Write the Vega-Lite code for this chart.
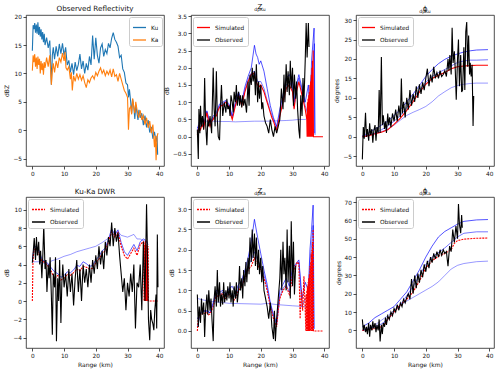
{
"$schema": "https://vega.github.io/schema/vega-lite/v6.json",
"padding": {"left": 3, "top": 3, "right": 5, "bottom": 3},
"bounds": "flush",
"columns": 3,
"spacing": {"row": 31, "column": 27},
"resolve": {"scale": {"color": "independent", "strokeDash": "independent", "opacity": "independent"}, "legend": {"color": "independent", "strokeDash": "independent"}},
"config": {
 "font": "DejaVu Sans",
 "view": {"stroke": "#222", "strokeWidth": 0.8},
 "axis": {"domain": false, "grid": false, "ticks": true, "tickColor": "#222", "tickSize": 3, "tickWidth": 0.8, "labelFontSize": 5.8, "labelColor": "#111", "labelPadding": 1.5, "titleFontSize": 6, "titleFontWeight": "normal", "titleColor": "#111", "titlePadding": 3, "labelFlush": false, "labelOverlap": false},
 "title": {"fontSize": 7.2, "fontWeight": "normal", "color": "#111", "offset": 2, "frame": "group", "subtitleColor": "#111"},
 "legend": {"orient": "top-left", "offset": 2, "padding": 3, "rowPadding": 1.5, "fillColor": "white", "strokeColor": "#ccc", "cornerRadius": 2, "labelFontSize": 5.8, "labelColor": "#111", "symbolType": "stroke", "symbolSize": 170, "symbolStrokeWidth": 1.3, "labelOffset": 4}
},
"datasets": {
 "a": [
  {"r":0,"v":14.0,"s":"Ku"},{"r":0.25,"v":18.5,"s":"Ku"},{"r":0.5,"v":17.8,"s":"Ku"},{"r":0.75,"v":18.9,"s":"Ku"},{"r":1.0,"v":17.2,"s":"Ku"},{"r":1.25,"v":18.6,"s":"Ku"},{"r":1.5,"v":17.0,"s":"Ku"},{"r":1.75,"v":19.0,"s":"Ku"},{"r":2.0,"v":16.8,"s":"Ku"},{"r":2.25,"v":18.2,"s":"Ku"},{"r":2.5,"v":16.5,"s":"Ku"},{"r":2.75,"v":17.8,"s":"Ku"},{"r":3.0,"v":16.0,"s":"Ku"},{"r":3.25,"v":17.3,"s":"Ku"},{"r":3.5,"v":15.5,"s":"Ku"},{"r":3.75,"v":17.0,"s":"Ku"},{"r":4.0,"v":15.0,"s":"Ku"},{"r":4.5,"v":16.3,"s":"Ku"},{"r":5.0,"v":14.5,"s":"Ku"},{"r":5.5,"v":15.8,"s":"Ku"},{"r":6.0,"v":8.0,"s":"Ku"},{"r":6.3,"v":13.2,"s":"Ku"},{"r":6.6,"v":14.6,"s":"Ku"},{"r":7.0,"v":12.5,"s":"Ku"},{"r":7.5,"v":14.8,"s":"Ku"},{"r":8.0,"v":13.0,"s":"Ku"},{"r":8.5,"v":15.2,"s":"Ku"},{"r":9.0,"v":13.5,"s":"Ku"},{"r":9.5,"v":15.3,"s":"Ku"},{"r":10.0,"v":13.2,"s":"Ku"},{"r":10.5,"v":14.6,"s":"Ku"},{"r":11.0,"v":11.5,"s":"Ku"},{"r":11.5,"v":12.3,"s":"Ku"},{"r":12.0,"v":10.2,"s":"Ku"},{"r":12.5,"v":11.8,"s":"Ku"},{"r":13.0,"v":9.8,"s":"Ku"},{"r":13.5,"v":12.0,"s":"Ku"},{"r":14.0,"v":10.5,"s":"Ku"},{"r":14.5,"v":11.6,"s":"Ku"},{"r":15.0,"v":13.4,"s":"Ku"},{"r":15.5,"v":10.8,"s":"Ku"},{"r":16.0,"v":12.2,"s":"Ku"},{"r":16.5,"v":10.0,"s":"Ku"},{"r":17.0,"v":11.8,"s":"Ku"},{"r":17.5,"v":10.6,"s":"Ku"},{"r":18.0,"v":13.0,"s":"Ku"},{"r":18.5,"v":11.5,"s":"Ku"},{"r":19.0,"v":16.7,"s":"Ku"},{"r":19.5,"v":12.5,"s":"Ku"},{"r":20.0,"v":16.3,"s":"Ku"},{"r":20.5,"v":13.2,"s":"Ku"},{"r":21.0,"v":11.8,"s":"Ku"},{"r":21.5,"v":14.5,"s":"Ku"},{"r":22.0,"v":15.2,"s":"Ku"},{"r":22.5,"v":13.0,"s":"Ku"},{"r":23.0,"v":14.2,"s":"Ku"},{"r":23.5,"v":13.5,"s":"Ku"},{"r":24.0,"v":15.3,"s":"Ku"},{"r":24.5,"v":14.5,"s":"Ku"},{"r":25.0,"v":16.2,"s":"Ku"},{"r":25.5,"v":17.2,"s":"Ku"},{"r":26.0,"v":16.0,"s":"Ku"},{"r":26.5,"v":15.5,"s":"Ku"},{"r":27.0,"v":14.8,"s":"Ku"},{"r":27.5,"v":12.8,"s":"Ku"},{"r":28.0,"v":13.2,"s":"Ku"},{"r":28.5,"v":10.8,"s":"Ku"},{"r":29.0,"v":10.2,"s":"Ku"},{"r":29.5,"v":8.3,"s":"Ku"},{"r":30.0,"v":8.0,"s":"Ku"},{"r":30.3,"v":5.8,"s":"Ku"},{"r":30.6,"v":7.2,"s":"Ku"},{"r":31.0,"v":5.0,"s":"Ku"},{"r":31.3,"v":3.0,"s":"Ku"},{"r":31.6,"v":5.5,"s":"Ku"},{"r":32.0,"v":4.0,"s":"Ku"},{"r":32.3,"v":2.0,"s":"Ku"},{"r":32.6,"v":4.5,"s":"Ku"},{"r":33.0,"v":3.0,"s":"Ku"},{"r":33.3,"v":1.8,"s":"Ku"},{"r":33.6,"v":3.6,"s":"Ku"},{"r":34.0,"v":2.2,"s":"Ku"},{"r":34.5,"v":3.0,"s":"Ku"},{"r":35.0,"v":0.9,"s":"Ku"},{"r":35.5,"v":2.6,"s":"Ku"},{"r":36.0,"v":0.5,"s":"Ku"},{"r":36.5,"v":1.8,"s":"Ku"},{"r":37.0,"v":-0.4,"s":"Ku"},{"r":37.5,"v":0.6,"s":"Ku"},{"r":38.0,"v":-1.5,"s":"Ku"},{"r":38.5,"v":-0.3,"s":"Ku"},{"r":39.0,"v":-2.0,"s":"Ku"},{"r":39.3,"v":-1.0,"s":"Ku"},{"r":39.5,"v":-4.3,"s":"Ku"},
  {"r":0,"v":10.5,"s":"Ka"},{"r":0.25,"v":13.2,"s":"Ka"},{"r":0.5,"v":12.0,"s":"Ka"},{"r":0.75,"v":13.4,"s":"Ka"},{"r":1.0,"v":11.2,"s":"Ka"},{"r":1.25,"v":12.8,"s":"Ka"},{"r":1.5,"v":10.8,"s":"Ka"},{"r":1.75,"v":13.0,"s":"Ka"},{"r":2.0,"v":11.5,"s":"Ka"},{"r":2.25,"v":12.6,"s":"Ka"},{"r":2.5,"v":10.0,"s":"Ka"},{"r":2.75,"v":12.2,"s":"Ka"},{"r":3.0,"v":10.6,"s":"Ka"},{"r":3.25,"v":11.8,"s":"Ka"},{"r":3.5,"v":9.8,"s":"Ka"},{"r":3.75,"v":12.0,"s":"Ka"},{"r":4.0,"v":11.0,"s":"Ka"},{"r":4.5,"v":12.8,"s":"Ka"},{"r":5.0,"v":11.2,"s":"Ka"},{"r":5.5,"v":13.2,"s":"Ka"},{"r":6.0,"v":8.0,"s":"Ka"},{"r":6.3,"v":10.5,"s":"Ka"},{"r":6.6,"v":11.8,"s":"Ka"},{"r":7.0,"v":10.2,"s":"Ka"},{"r":7.5,"v":12.2,"s":"Ka"},{"r":8.0,"v":11.0,"s":"Ka"},{"r":8.5,"v":12.8,"s":"Ka"},{"r":9.0,"v":12.0,"s":"Ka"},{"r":9.5,"v":13.6,"s":"Ka"},{"r":10.0,"v":12.2,"s":"Ka"},{"r":10.3,"v":13.8,"s":"Ka"},{"r":10.6,"v":11.0,"s":"Ka"},{"r":11.0,"v":10.6,"s":"Ka"},{"r":11.5,"v":11.2,"s":"Ka"},{"r":12.0,"v":9.0,"s":"Ka"},{"r":12.3,"v":10.2,"s":"Ka"},{"r":12.6,"v":7.0,"s":"Ka"},{"r":13.0,"v":9.6,"s":"Ka"},{"r":13.5,"v":8.6,"s":"Ka"},{"r":14.0,"v":10.0,"s":"Ka"},{"r":14.5,"v":9.0,"s":"Ka"},{"r":15.0,"v":9.8,"s":"Ka"},{"r":15.5,"v":8.8,"s":"Ka"},{"r":16.0,"v":9.6,"s":"Ka"},{"r":16.5,"v":8.4,"s":"Ka"},{"r":17.0,"v":7.5,"s":"Ka"},{"r":17.5,"v":8.9,"s":"Ka"},{"r":18.0,"v":8.4,"s":"Ka"},{"r":18.5,"v":9.2,"s":"Ka"},{"r":19.0,"v":9.6,"s":"Ka"},{"r":19.5,"v":9.0,"s":"Ka"},{"r":20.0,"v":10.2,"s":"Ka"},{"r":20.5,"v":9.6,"s":"Ka"},{"r":21.0,"v":10.4,"s":"Ka"},{"r":21.5,"v":11.0,"s":"Ka"},{"r":22.0,"v":10.0,"s":"Ka"},{"r":22.5,"v":10.6,"s":"Ka"},{"r":23.0,"v":9.6,"s":"Ka"},{"r":23.5,"v":10.4,"s":"Ka"},{"r":24.0,"v":9.8,"s":"Ka"},{"r":24.5,"v":10.6,"s":"Ka"},{"r":25.0,"v":9.4,"s":"Ka"},{"r":25.5,"v":10.8,"s":"Ka"},{"r":26.0,"v":9.5,"s":"Ka"},{"r":26.5,"v":9.8,"s":"Ka"},{"r":27.0,"v":8.6,"s":"Ka"},{"r":27.5,"v":10.0,"s":"Ka"},{"r":28.0,"v":9.0,"s":"Ka"},{"r":28.5,"v":8.0,"s":"Ka"},{"r":29.0,"v":7.0,"s":"Ka"},{"r":29.5,"v":6.5,"s":"Ka"},{"r":30.0,"v":5.8,"s":"Ka"},{"r":30.3,"v":0.1,"s":"Ka"},{"r":30.6,"v":3.8,"s":"Ka"},{"r":31.0,"v":4.2,"s":"Ka"},{"r":31.3,"v":2.8,"s":"Ka"},{"r":31.6,"v":5.6,"s":"Ka"},{"r":32.0,"v":4.0,"s":"Ka"},{"r":32.3,"v":3.0,"s":"Ka"},{"r":32.6,"v":5.0,"s":"Ka"},{"r":33.0,"v":3.6,"s":"Ka"},{"r":33.5,"v":2.2,"s":"Ka"},{"r":34.0,"v":3.5,"s":"Ka"},{"r":34.5,"v":1.8,"s":"Ka"},{"r":35.0,"v":2.6,"s":"Ka"},{"r":35.5,"v":1.0,"s":"Ka"},{"r":36.0,"v":2.2,"s":"Ka"},{"r":36.5,"v":0.4,"s":"Ka"},{"r":37.0,"v":1.6,"s":"Ka"},{"r":37.5,"v":-0.5,"s":"Ka"},{"r":38.0,"v":1.0,"s":"Ka"},{"r":38.5,"v":-3.0,"s":"Ka"},{"r":38.8,"v":-1.0,"s":"Ka"},{"r":39.0,"v":-5.3,"s":"Ka"},{"r":39.3,"v":-1.2,"s":"Ka"},{"r":39.6,"v":-0.5,"s":"Ka"}
 ],
 "b": [
  {"r":0,"v":0.05,"s":"Simulated"},{"r":0.5,"v":0.3,"s":"Simulated"},{"r":1,"v":0.2,"s":"Simulated"},{"r":1.5,"v":0.35,"s":"Simulated"},{"r":2,"v":0.25,"s":"Simulated"},{"r":2.5,"v":0.5,"s":"Simulated"},{"r":3,"v":0.7,"s":"Simulated"},{"r":3.5,"v":0.45,"s":"Simulated"},{"r":4,"v":0.3,"s":"Simulated"},{"r":4.5,"v":0.45,"s":"Simulated"},{"r":5,"v":0.5,"s":"Simulated"},{"r":5.5,"v":0.6,"s":"Simulated"},{"r":6,"v":0.6,"s":"Simulated"},{"r":6.5,"v":0.75,"s":"Simulated"},{"r":7,"v":0.85,"s":"Simulated"},{"r":7.5,"v":0.9,"s":"Simulated"},{"r":8,"v":0.9,"s":"Simulated"},{"r":8.5,"v":0.95,"s":"Simulated"},{"r":9,"v":1.0,"s":"Simulated"},{"r":9.5,"v":0.95,"s":"Simulated"},{"r":10,"v":0.85,"s":"Simulated"},{"r":10.5,"v":0.65,"s":"Simulated"},{"r":11,"v":0.5,"s":"Simulated"},{"r":11.5,"v":0.7,"s":"Simulated"},{"r":12,"v":0.9,"s":"Simulated"},{"r":12.5,"v":1.05,"s":"Simulated"},{"r":13,"v":1.2,"s":"Simulated"},{"r":13.5,"v":1.05,"s":"Simulated"},{"r":14,"v":0.9,"s":"Simulated"},{"r":14.5,"v":1.1,"s":"Simulated"},{"r":15,"v":1.3,"s":"Simulated"},{"r":15.5,"v":1.45,"s":"Simulated"},{"r":16,"v":1.6,"s":"Simulated"},{"r":16.5,"v":1.7,"s":"Simulated"},{"r":17,"v":1.8,"s":"Simulated"},{"r":17.5,"v":1.85,"s":"Simulated"},{"r":18,"v":1.8,"s":"Simulated"},{"r":18.5,"v":1.6,"s":"Simulated"},{"r":19,"v":1.5,"s":"Simulated"},{"r":19.5,"v":1.45,"s":"Simulated"},{"r":20,"v":1.5,"s":"Simulated"},{"r":20.5,"v":1.4,"s":"Simulated"},{"r":21,"v":1.3,"s":"Simulated"},{"r":21.5,"v":1.15,"s":"Simulated"},{"r":22,"v":1.0,"s":"Simulated"},{"r":22.5,"v":0.85,"s":"Simulated"},{"r":23,"v":0.7,"s":"Simulated"},{"r":23.5,"v":0.55,"s":"Simulated"},{"r":24,"v":0.45,"s":"Simulated"},{"r":24.5,"v":0.3,"s":"Simulated"},{"r":25,"v":0.2,"s":"Simulated"},{"r":25.5,"v":0.4,"s":"Simulated"},{"r":26,"v":0.6,"s":"Simulated"},{"r":26.5,"v":0.8,"s":"Simulated"},{"r":27,"v":1.0,"s":"Simulated"},{"r":27.5,"v":1.2,"s":"Simulated"},{"r":28,"v":1.4,"s":"Simulated"},{"r":28.5,"v":1.45,"s":"Simulated"},{"r":29,"v":1.5,"s":"Simulated"},{"r":29.5,"v":1.4,"s":"Simulated"},{"r":30,"v":1.3,"s":"Simulated"},{"r":30.5,"v":0.8,"s":"Simulated"},{"r":31,"v":1.2,"s":"Simulated"},{"r":31.5,"v":1.4,"s":"Simulated"},{"r":32,"v":1.6,"s":"Simulated"},{"r":32.5,"v":1.4,"s":"Simulated"},{"r":33,"v":1.2,"s":"Simulated"},{"r":33.5,"v":1.0,"s":"Simulated"},{"r":34,"v":0.8,"s":"Simulated"},{"r":34.5,"v":0.5,"s":"Simulated"},{"r":34.6,"v":0,"s":"Simulated"},{"r":34.7,"v":1.0,"s":"Simulated"},{"r":34.8,"v":0,"s":"Simulated"},{"r":34.9,"v":1.1,"s":"Simulated"},{"r":35.0,"v":0,"s":"Simulated"},{"r":35.1,"v":1.2,"s":"Simulated"},{"r":35.2,"v":0,"s":"Simulated"},{"r":35.3,"v":1.3,"s":"Simulated"},{"r":35.4,"v":0,"s":"Simulated"},{"r":35.5,"v":1.5,"s":"Simulated"},{"r":35.6,"v":0,"s":"Simulated"},{"r":35.7,"v":1.6,"s":"Simulated"},{"r":35.8,"v":0,"s":"Simulated"},{"r":35.9,"v":1.8,"s":"Simulated"},{"r":36.0,"v":0,"s":"Simulated"},{"r":36.1,"v":2.0,"s":"Simulated"},{"r":36.2,"v":0,"s":"Simulated"},{"r":36.3,"v":2.2,"s":"Simulated"},{"r":36.4,"v":0,"s":"Simulated"},{"r":36.5,"v":2.5,"s":"Simulated"},{"r":36.6,"v":0,"s":"Simulated"},{"r":39.6,"v":0,"s":"Simulated"},
  {"r":0,"v":0.2,"s":"Observed"},{"r":0.3,"v":-0.65,"s":"Observed"},{"r":0.5,"v":0.8,"s":"Observed"},{"r":0.8,"v":0.1,"s":"Observed"},{"r":1,"v":0.9,"s":"Observed"},{"r":1.3,"v":0.3,"s":"Observed"},{"r":1.6,"v":0.6,"s":"Observed"},{"r":2,"v":0.2,"s":"Observed"},{"r":2.3,"v":1.7,"s":"Observed"},{"r":2.6,"v":0.4,"s":"Observed"},{"r":3,"v":-0.25,"s":"Observed"},{"r":3.3,"v":0.5,"s":"Observed"},{"r":3.6,"v":0.3,"s":"Observed"},{"r":4,"v":0.6,"s":"Observed"},{"r":4.5,"v":0.1,"s":"Observed"},{"r":5,"v":2.0,"s":"Observed"},{"r":5.3,"v":0.8,"s":"Observed"},{"r":5.6,"v":0.3,"s":"Observed"},{"r":6,"v":1.9,"s":"Observed"},{"r":6.3,"v":0.5,"s":"Observed"},{"r":6.6,"v":0.0,"s":"Observed"},{"r":7,"v":-0.1,"s":"Observed"},{"r":7.3,"v":0.9,"s":"Observed"},{"r":7.6,"v":1.5,"s":"Observed"},{"r":8,"v":0.6,"s":"Observed"},{"r":8.5,"v":1.0,"s":"Observed"},{"r":9,"v":0.7,"s":"Observed"},{"r":9.3,"v":1.1,"s":"Observed"},{"r":9.6,"v":0.8,"s":"Observed"},{"r":10,"v":0.9,"s":"Observed"},{"r":10.3,"v":0.6,"s":"Observed"},{"r":10.6,"v":1.2,"s":"Observed"},{"r":11,"v":1.0,"s":"Observed"},{"r":11.3,"v":0.7,"s":"Observed"},{"r":11.6,"v":1.3,"s":"Observed"},{"r":12,"v":1.0,"s":"Observed"},{"r":12.3,"v":1.5,"s":"Observed"},{"r":12.6,"v":0.9,"s":"Observed"},{"r":13,"v":1.3,"s":"Observed"},{"r":13.3,"v":0.9,"s":"Observed"},{"r":13.6,"v":1.2,"s":"Observed"},{"r":14,"v":0.85,"s":"Observed"},{"r":14.3,"v":1.2,"s":"Observed"},{"r":14.6,"v":0.9,"s":"Observed"},{"r":15,"v":1.1,"s":"Observed"},{"r":15.5,"v":0.7,"s":"Observed"},{"r":16,"v":1.6,"s":"Observed"},{"r":16.3,"v":0.9,"s":"Observed"},{"r":16.6,"v":1.8,"s":"Observed"},{"r":17,"v":1.5,"s":"Observed"},{"r":17.3,"v":2.0,"s":"Observed"},{"r":17.6,"v":1.6,"s":"Observed"},{"r":18,"v":1.9,"s":"Observed"},{"r":18.3,"v":1.2,"s":"Observed"},{"r":18.6,"v":2.1,"s":"Observed"},{"r":19,"v":1.0,"s":"Observed"},{"r":19.3,"v":1.6,"s":"Observed"},{"r":19.6,"v":1.1,"s":"Observed"},{"r":20,"v":1.5,"s":"Observed"},{"r":20.3,"v":0.8,"s":"Observed"},{"r":20.6,"v":1.0,"s":"Observed"},{"r":21,"v":0.6,"s":"Observed"},{"r":21.5,"v":0.4,"s":"Observed"},{"r":22,"v":0.3,"s":"Observed"},{"r":22.5,"v":0.1,"s":"Observed"},{"r":23,"v":0.5,"s":"Observed"},{"r":23.5,"v":0.2,"s":"Observed"},{"r":24,"v":0.0,"s":"Observed"},{"r":24.5,"v":0.3,"s":"Observed"},{"r":25,"v":0.1,"s":"Observed"},{"r":25.5,"v":0.3,"s":"Observed"},{"r":26,"v":0.5,"s":"Observed"},{"r":26.5,"v":1.4,"s":"Observed"},{"r":27,"v":0.8,"s":"Observed"},{"r":27.3,"v":1.8,"s":"Observed"},{"r":27.6,"v":1.0,"s":"Observed"},{"r":28,"v":2.1,"s":"Observed"},{"r":28.3,"v":1.3,"s":"Observed"},{"r":28.6,"v":1.9,"s":"Observed"},{"r":29,"v":1.2,"s":"Observed"},{"r":29.3,"v":2.2,"s":"Observed"},{"r":29.6,"v":1.4,"s":"Observed"},{"r":30,"v":2.0,"s":"Observed"},{"r":30.3,"v":0.9,"s":"Observed"},{"r":30.6,"v":1.8,"s":"Observed"},{"r":31,"v":1.1,"s":"Observed"},{"r":31.3,"v":1.6,"s":"Observed"},{"r":31.6,"v":0.8,"s":"Observed"},{"r":32,"v":0.2,"s":"Observed"},{"r":32.3,"v":-0.05,"s":"Observed"},{"r":32.6,"v":1.2,"s":"Observed"},{"r":33,"v":0.6,"s":"Observed"},{"r":33.3,"v":1.7,"s":"Observed"},{"r":33.6,"v":1.0,"s":"Observed"},{"r":34,"v":2.2,"s":"Observed"},{"r":34.3,"v":3.3,"s":"Observed"},{"r":34.6,"v":2.3,"s":"Observed"},{"r":35,"v":3.3,"s":"Observed"},{"r":35.2,"v":2.6,"s":"Observed"},
  {"r":0,"v":0.25,"s":"hi"},{"r":1,"v":0.4,"s":"hi"},{"r":2,"v":0.35,"s":"hi"},{"r":3,"v":0.75,"s":"hi"},{"r":4,"v":0.4,"s":"hi"},{"r":5,"v":0.6,"s":"hi"},{"r":6,"v":0.7,"s":"hi"},{"r":7,"v":0.95,"s":"hi"},{"r":8,"v":1.0,"s":"hi"},{"r":9,"v":1.05,"s":"hi"},{"r":10,"v":0.95,"s":"hi"},{"r":11,"v":0.6,"s":"hi"},{"r":12,"v":1.0,"s":"hi"},{"r":13,"v":1.3,"s":"hi"},{"r":14,"v":1.0,"s":"hi"},{"r":15,"v":1.45,"s":"hi"},{"r":16,"v":1.75,"s":"hi"},{"r":17,"v":2.0,"s":"hi"},{"r":18,"v":2.65,"s":"hi"},{"r":18.5,"v":2.4,"s":"hi"},{"r":19,"v":2.3,"s":"hi"},{"r":19.5,"v":2.1,"s":"hi"},{"r":20,"v":2.2,"s":"hi"},{"r":21,"v":1.9,"s":"hi"},{"r":22,"v":1.4,"s":"hi"},{"r":23,"v":0.9,"s":"hi"},{"r":24,"v":0.55,"s":"hi"},{"r":25,"v":0.3,"s":"hi"},{"r":26,"v":0.8,"s":"hi"},{"r":27,"v":1.2,"s":"hi"},{"r":28,"v":1.7,"s":"hi"},{"r":29,"v":1.8,"s":"hi"},{"r":30,"v":1.6,"s":"hi"},{"r":30.5,"v":1.0,"s":"hi"},{"r":31,"v":1.4,"s":"hi"},{"r":32,"v":1.8,"s":"hi"},{"r":33,"v":1.4,"s":"hi"},{"r":34,"v":1.0,"s":"hi"},{"r":35,"v":1.5,"s":"hi"},{"r":35.5,"v":0.6,"s":"hi"},{"r":36,"v":2.2,"s":"hi"},{"r":36.5,"v":2.8,"s":"hi"},{"r":36.8,"v":3.15,"s":"hi"},{"r":37,"v":0.1,"s":"hi"},
  {"r":0,"v":0.2,"s":"mid"},{"r":1,"v":0.3,"s":"mid"},{"r":2,"v":0.3,"s":"mid"},{"r":3,"v":0.72,"s":"mid"},{"r":4,"v":0.35,"s":"mid"},{"r":5,"v":0.55,"s":"mid"},{"r":6,"v":0.65,"s":"mid"},{"r":7,"v":0.9,"s":"mid"},{"r":8,"v":0.95,"s":"mid"},{"r":9,"v":1.02,"s":"mid"},{"r":10,"v":0.9,"s":"mid"},{"r":11,"v":0.55,"s":"mid"},{"r":12,"v":0.95,"s":"mid"},{"r":13,"v":1.25,"s":"mid"},{"r":14,"v":0.95,"s":"mid"},{"r":15,"v":1.35,"s":"mid"},{"r":16,"v":1.65,"s":"mid"},{"r":17,"v":1.85,"s":"mid"},{"r":18,"v":1.9,"s":"mid"},{"r":19,"v":1.6,"s":"mid"},{"r":20,"v":1.6,"s":"mid"},{"r":21,"v":1.4,"s":"mid"},{"r":22,"v":1.05,"s":"mid"},{"r":23,"v":0.75,"s":"mid"},{"r":24,"v":0.5,"s":"mid"},{"r":25,"v":0.25,"s":"mid"},{"r":26,"v":0.65,"s":"mid"},{"r":27,"v":1.05,"s":"mid"},{"r":28,"v":1.5,"s":"mid"},{"r":29,"v":1.6,"s":"mid"},{"r":30,"v":1.4,"s":"mid"},{"r":30.5,"v":0.85,"s":"mid"},{"r":31,"v":1.25,"s":"mid"},{"r":32,"v":1.7,"s":"mid"},{"r":33,"v":1.3,"s":"mid"},{"r":34,"v":0.9,"s":"mid"},{"r":35,"v":0.6,"s":"mid"},{"r":35.5,"v":1.4,"s":"mid"},{"r":36,"v":1.8,"s":"mid"},{"r":36.5,"v":2.2,"s":"mid"},{"r":36.9,"v":2.7,"s":"mid"},{"r":37.1,"v":0.05,"s":"mid"},
  {"r":0,"v":0.2,"s":"lo"},{"r":0.5,"v":0.42,"s":"lo"},{"r":2,"v":0.45,"s":"lo"},{"r":5,"v":0.45,"s":"lo"},{"r":8,"v":0.44,"s":"lo"},{"r":10,"v":0.44,"s":"lo"},{"r":12,"v":0.43,"s":"lo"},{"r":15,"v":0.44,"s":"lo"},{"r":18,"v":0.45,"s":"lo"},{"r":20,"v":0.45,"s":"lo"},{"r":22,"v":0.45,"s":"lo"},{"r":25,"v":0.46,"s":"lo"},{"r":28,"v":0.47,"s":"lo"},{"r":30,"v":0.48,"s":"lo"},{"r":32,"v":0.5,"s":"lo"},{"r":34,"v":0.5,"s":"lo"},{"r":35,"v":0.55,"s":"lo"}
 ],
 "c": [
  {"r":0,"v":0,"s":"Simulated"},{"r":2,"v":0.3,"s":"Simulated"},{"r":4,"v":0.8,"s":"Simulated"},{"r":6,"v":1.2,"s":"Simulated"},{"r":8,"v":1.8,"s":"Simulated"},{"r":10,"v":3.2,"s":"Simulated"},{"r":12,"v":4.8,"s":"Simulated"},{"r":14,"v":6.8,"s":"Simulated"},{"r":16,"v":9.0,"s":"Simulated"},{"r":18,"v":11.5,"s":"Simulated"},{"r":20,"v":13.5,"s":"Simulated"},{"r":22,"v":15.0,"s":"Simulated"},{"r":24,"v":15.8,"s":"Simulated"},{"r":26,"v":16.5,"s":"Simulated"},{"r":28,"v":17.5,"s":"Simulated"},{"r":30,"v":18.0,"s":"Simulated"},{"r":32,"v":18.2,"s":"Simulated"},{"r":34,"v":18.3,"s":"Simulated"},{"r":36,"v":18.4,"s":"Simulated"},{"r":39.6,"v":18.4,"s":"Simulated"},
  {"r":0,"v":-5.8,"s":"Observed"},{"r":0.3,"v":2.5,"s":"Observed"},{"r":0.6,"v":-0.5,"s":"Observed"},{"r":1,"v":6.2,"s":"Observed"},{"r":1.3,"v":0,"s":"Observed"},{"r":1.6,"v":2,"s":"Observed"},{"r":2,"v":-1,"s":"Observed"},{"r":2.3,"v":3.5,"s":"Observed"},{"r":2.6,"v":0.5,"s":"Observed"},{"r":3,"v":2,"s":"Observed"},{"r":3.3,"v":-1.5,"s":"Observed"},{"r":3.6,"v":1.5,"s":"Observed"},{"r":4,"v":3,"s":"Observed"},{"r":4.3,"v":-1,"s":"Observed"},{"r":4.6,"v":2.5,"s":"Observed"},{"r":5,"v":1,"s":"Observed"},{"r":5.3,"v":12,"s":"Observed"},{"r":5.6,"v":1,"s":"Observed"},{"r":6,"v":20.5,"s":"Observed"},{"r":6.3,"v":3,"s":"Observed"},{"r":6.6,"v":5.5,"s":"Observed"},{"r":7,"v":2,"s":"Observed"},{"r":7.3,"v":4,"s":"Observed"},{"r":7.6,"v":1,"s":"Observed"},{"r":8,"v":6,"s":"Observed"},{"r":8.3,"v":3,"s":"Observed"},{"r":8.6,"v":5,"s":"Observed"},{"r":9,"v":2.5,"s":"Observed"},{"r":9.5,"v":6,"s":"Observed"},{"r":10,"v":4,"s":"Observed"},{"r":10.5,"v":7,"s":"Observed"},{"r":11,"v":4,"s":"Observed"},{"r":11.5,"v":8,"s":"Observed"},{"r":12,"v":5,"s":"Observed"},{"r":12.3,"v":15,"s":"Observed"},{"r":12.6,"v":6,"s":"Observed"},{"r":13,"v":9,"s":"Observed"},{"r":13.5,"v":5,"s":"Observed"},{"r":14,"v":10,"s":"Observed"},{"r":14.5,"v":7,"s":"Observed"},{"r":15,"v":12,"s":"Observed"},{"r":15.5,"v":8,"s":"Observed"},{"r":16,"v":11,"s":"Observed"},{"r":16.5,"v":9,"s":"Observed"},{"r":17,"v":13,"s":"Observed"},{"r":17.5,"v":10,"s":"Observed"},{"r":18,"v":13.5,"s":"Observed"},{"r":18.5,"v":11,"s":"Observed"},{"r":19,"v":14,"s":"Observed"},{"r":19.5,"v":12,"s":"Observed"},{"r":20,"v":15,"s":"Observed"},{"r":20.5,"v":17.5,"s":"Observed"},{"r":21,"v":13,"s":"Observed"},{"r":21.5,"v":16,"s":"Observed"},{"r":22,"v":14,"s":"Observed"},{"r":22.5,"v":18,"s":"Observed"},{"r":23,"v":15,"s":"Observed"},{"r":23.5,"v":16.5,"s":"Observed"},{"r":24,"v":15,"s":"Observed"},{"r":24.5,"v":17,"s":"Observed"},{"r":25,"v":15.5,"s":"Observed"},{"r":25.5,"v":16,"s":"Observed"},{"r":26,"v":17,"s":"Observed"},{"r":26.5,"v":15.5,"s":"Observed"},{"r":27,"v":20,"s":"Observed"},{"r":27.3,"v":17,"s":"Observed"},{"r":27.6,"v":21,"s":"Observed"},{"r":28,"v":16,"s":"Observed"},{"r":28.3,"v":28,"s":"Observed"},{"r":28.6,"v":19,"s":"Observed"},{"r":29,"v":22,"s":"Observed"},{"r":29.3,"v":17,"s":"Observed"},{"r":29.6,"v":9.5,"s":"Observed"},{"r":30,"v":20,"s":"Observed"},{"r":30.3,"v":25,"s":"Observed"},{"r":30.6,"v":13,"s":"Observed"},{"r":31,"v":21,"s":"Observed"},{"r":31.3,"v":11.5,"s":"Observed"},{"r":31.6,"v":12,"s":"Observed"},{"r":32,"v":23,"s":"Observed"},{"r":32.3,"v":12,"s":"Observed"},{"r":32.6,"v":27,"s":"Observed"},{"r":32.9,"v":29.5,"s":"Observed"},{"r":33.2,"v":18,"s":"Observed"},{"r":33.5,"v":26,"s":"Observed"},{"r":33.8,"v":16,"s":"Observed"},{"r":34,"v":19,"s":"Observed"},{"r":34.3,"v":15.5,"s":"Observed"},{"r":34.6,"v":18.5,"s":"Observed"},{"r":34.9,"v":2.8,"s":"Observed"},{"r":35.1,"v":10.5,"s":"Observed"},
  {"r":0,"v":0.3,"s":"hi"},{"r":2,"v":1.0,"s":"hi"},{"r":4,"v":2.0,"s":"hi"},{"r":6,"v":3.0,"s":"hi"},{"r":8,"v":4.0,"s":"hi"},{"r":10,"v":5.5,"s":"hi"},{"r":12,"v":7.0,"s":"hi"},{"r":14,"v":9.0,"s":"hi"},{"r":16,"v":11.0,"s":"hi"},{"r":18,"v":13.2,"s":"hi"},{"r":20,"v":15.5,"s":"hi"},{"r":22,"v":17.3,"s":"hi"},{"r":24,"v":18.8,"s":"hi"},{"r":26,"v":19.9,"s":"hi"},{"r":28,"v":20.7,"s":"hi"},{"r":30,"v":21.3,"s":"hi"},{"r":32,"v":21.8,"s":"hi"},{"r":34,"v":22.1,"s":"hi"},{"r":36,"v":22.3,"s":"hi"},{"r":39.6,"v":22.4,"s":"hi"},
  {"r":0,"v":0,"s":"mid"},{"r":2,"v":0.5,"s":"mid"},{"r":4,"v":1.0,"s":"mid"},{"r":6,"v":1.8,"s":"mid"},{"r":8,"v":2.8,"s":"mid"},{"r":10,"v":4.0,"s":"mid"},{"r":12,"v":5.5,"s":"mid"},{"r":14,"v":7.5,"s":"mid"},{"r":16,"v":9.8,"s":"mid"},{"r":18,"v":12.0,"s":"mid"},{"r":20,"v":14.0,"s":"mid"},{"r":22,"v":15.5,"s":"mid"},{"r":24,"v":16.5,"s":"mid"},{"r":26,"v":17.3,"s":"mid"},{"r":28,"v":18.2,"s":"mid"},{"r":30,"v":19.1,"s":"mid"},{"r":32,"v":19.5,"s":"mid"},{"r":34,"v":19.7,"s":"mid"},{"r":36,"v":19.7,"s":"mid"},{"r":39.6,"v":19.8,"s":"mid"},
  {"r":0,"v":0,"s":"lo"},{"r":2,"v":0.3,"s":"lo"},{"r":4,"v":0.8,"s":"lo"},{"r":6,"v":1.3,"s":"lo"},{"r":8,"v":2.0,"s":"lo"},{"r":10,"v":3.0,"s":"lo"},{"r":12,"v":4.3,"s":"lo"},{"r":14,"v":5.5,"s":"lo"},{"r":16,"v":6.3,"s":"lo"},{"r":18,"v":7.0,"s":"lo"},{"r":20,"v":7.8,"s":"lo"},{"r":22,"v":9.0,"s":"lo"},{"r":24,"v":10.5,"s":"lo"},{"r":26,"v":11.6,"s":"lo"},{"r":28,"v":12.6,"s":"lo"},{"r":30,"v":13.2,"s":"lo"},{"r":32,"v":13.5,"s":"lo"},{"r":34,"v":13.7,"s":"lo"},{"r":36,"v":13.8,"s":"lo"},{"r":39.6,"v":13.8,"s":"lo"}
 ],
 "d": [
  {"r":0,"v":0,"s":"Simulated"},{"r":0.2,"v":4.5,"s":"Simulated"},{"r":0.5,"v":5.5,"s":"Simulated"},{"r":1,"v":5.8,"s":"Simulated"},{"r":1.5,"v":5.5,"s":"Simulated"},{"r":2,"v":5.2,"s":"Simulated"},{"r":3,"v":4.4,"s":"Simulated"},{"r":4,"v":4.2,"s":"Simulated"},{"r":5,"v":3.8,"s":"Simulated"},{"r":6,"v":3.2,"s":"Simulated"},{"r":7,"v":2.5,"s":"Simulated"},{"r":8,"v":2.8,"s":"Simulated"},{"r":9,"v":2.3,"s":"Simulated"},{"r":10,"v":2.5,"s":"Simulated"},{"r":11,"v":2.9,"s":"Simulated"},{"r":12,"v":2.8,"s":"Simulated"},{"r":13,"v":3.1,"s":"Simulated"},{"r":14,"v":3.5,"s":"Simulated"},{"r":15,"v":3.3,"s":"Simulated"},{"r":16,"v":3.8,"s":"Simulated"},{"r":17,"v":3.7,"s":"Simulated"},{"r":18,"v":3.5,"s":"Simulated"},{"r":19,"v":3.6,"s":"Simulated"},{"r":20,"v":4.2,"s":"Simulated"},{"r":21,"v":4.6,"s":"Simulated"},{"r":22,"v":5.2,"s":"Simulated"},{"r":23,"v":5.5,"s":"Simulated"},{"r":24,"v":6.5,"s":"Simulated"},{"r":25,"v":7.6,"s":"Simulated"},{"r":26,"v":7.0,"s":"Simulated"},{"r":27,"v":7.5,"s":"Simulated"},{"r":28,"v":6.0,"s":"Simulated"},{"r":29,"v":5.0,"s":"Simulated"},{"r":30,"v":4.6,"s":"Simulated"},{"r":31,"v":5.2,"s":"Simulated"},{"r":32,"v":5.8,"s":"Simulated"},{"r":33,"v":5.0,"s":"Simulated"},{"r":34,"v":6.2,"s":"Simulated"},{"r":35,"v":6.5,"s":"Simulated"},{"r":35.2,"v":0,"s":"Simulated"},{"r":35.3,"v":6.4,"s":"Simulated"},{"r":35.4,"v":0,"s":"Simulated"},{"r":35.5,"v":6.2,"s":"Simulated"},{"r":35.6,"v":0,"s":"Simulated"},{"r":35.7,"v":6.6,"s":"Simulated"},{"r":35.8,"v":0,"s":"Simulated"},{"r":35.9,"v":6.0,"s":"Simulated"},{"r":36.0,"v":0,"s":"Simulated"},{"r":36.1,"v":6.2,"s":"Simulated"},{"r":36.2,"v":0,"s":"Simulated"},{"r":36.3,"v":5.8,"s":"Simulated"},{"r":36.4,"v":0,"s":"Simulated"},{"r":36.5,"v":6.0,"s":"Simulated"},{"r":36.6,"v":0,"s":"Simulated"},{"r":39.6,"v":0,"s":"Simulated"},
  {"r":0,"v":4.2,"s":"Observed"},{"r":0.3,"v":5.5,"s":"Observed"},{"r":0.6,"v":6.9,"s":"Observed"},{"r":1,"v":4.5,"s":"Observed"},{"r":1.3,"v":7.0,"s":"Observed"},{"r":1.6,"v":5.0,"s":"Observed"},{"r":2,"v":6.5,"s":"Observed"},{"r":2.3,"v":4.0,"s":"Observed"},{"r":2.6,"v":5.5,"s":"Observed"},{"r":3,"v":2.5,"s":"Observed"},{"r":3.3,"v":5,"s":"Observed"},{"r":3.6,"v":8.3,"s":"Observed"},{"r":4,"v":3.5,"s":"Observed"},{"r":4.3,"v":4.5,"s":"Observed"},{"r":4.6,"v":1.0,"s":"Observed"},{"r":5,"v":4,"s":"Observed"},{"r":5.3,"v":2.5,"s":"Observed"},{"r":5.6,"v":4.8,"s":"Observed"},{"r":6,"v":0.5,"s":"Observed"},{"r":6.3,"v":-3.7,"s":"Observed"},{"r":6.6,"v":3,"s":"Observed"},{"r":7,"v":1.5,"s":"Observed"},{"r":7.3,"v":4.8,"s":"Observed"},{"r":7.6,"v":-4.4,"s":"Observed"},{"r":8,"v":2.5,"s":"Observed"},{"r":8.3,"v":0,"s":"Observed"},{"r":8.6,"v":4.5,"s":"Observed"},{"r":9,"v":-2.4,"s":"Observed"},{"r":9.3,"v":2,"s":"Observed"},{"r":9.6,"v":4,"s":"Observed"},{"r":10,"v":1.5,"s":"Observed"},{"r":10.5,"v":3,"s":"Observed"},{"r":11,"v":0.5,"s":"Observed"},{"r":11.5,"v":3.5,"s":"Observed"},{"r":12,"v":1,"s":"Observed"},{"r":12.5,"v":3,"s":"Observed"},{"r":13,"v":-0.5,"s":"Observed"},{"r":13.5,"v":2.5,"s":"Observed"},{"r":14,"v":4.5,"s":"Observed"},{"r":14.5,"v":1,"s":"Observed"},{"r":15,"v":3.5,"s":"Observed"},{"r":15.5,"v":0,"s":"Observed"},{"r":16,"v":4,"s":"Observed"},{"r":16.5,"v":2,"s":"Observed"},{"r":17,"v":3.5,"s":"Observed"},{"r":17.5,"v":1.5,"s":"Observed"},{"r":18,"v":4,"s":"Observed"},{"r":18.5,"v":2,"s":"Observed"},{"r":19,"v":4.5,"s":"Observed"},{"r":19.5,"v":3,"s":"Observed"},{"r":20,"v":5,"s":"Observed"},{"r":20.5,"v":3.5,"s":"Observed"},{"r":21,"v":6,"s":"Observed"},{"r":21.5,"v":4,"s":"Observed"},{"r":22,"v":5.5,"s":"Observed"},{"r":22.5,"v":3.5,"s":"Observed"},{"r":23,"v":6.5,"s":"Observed"},{"r":23.5,"v":5,"s":"Observed"},{"r":24,"v":7,"s":"Observed"},{"r":24.5,"v":6,"s":"Observed"},{"r":25,"v":8.6,"s":"Observed"},{"r":25.5,"v":6,"s":"Observed"},{"r":26,"v":8,"s":"Observed"},{"r":26.5,"v":6.5,"s":"Observed"},{"r":27,"v":7.5,"s":"Observed"},{"r":27.5,"v":5,"s":"Observed"},{"r":28,"v":3,"s":"Observed"},{"r":28.5,"v":1,"s":"Observed"},{"r":29,"v":2.5,"s":"Observed"},{"r":29.5,"v":-1,"s":"Observed"},{"r":30,"v":2,"s":"Observed"},{"r":30.5,"v":0.5,"s":"Observed"},{"r":31,"v":3,"s":"Observed"},{"r":31.5,"v":1,"s":"Observed"},{"r":32,"v":4,"s":"Observed"},{"r":32.5,"v":-3,"s":"Observed"},{"r":33,"v":2,"s":"Observed"},{"r":33.5,"v":1.5,"s":"Observed"},{"r":34,"v":4,"s":"Observed"},{"r":34.5,"v":-1,"s":"Observed"},{"r":35,"v":6.5,"s":"Observed"},{"r":35.5,"v":0,"s":"Observed"},{"r":36,"v":10.6,"s":"Observed"},{"r":36.3,"v":5,"s":"Observed"},{"r":36.6,"v":-2,"s":"Observed"},{"r":37,"v":-4.3,"s":"Observed"},{"r":37.3,"v":-1,"s":"Observed"},{"r":37.6,"v":-2,"s":"Observed"},{"r":38,"v":-2.5,"s":"Observed"},{"r":38.3,"v":-3.2,"s":"Observed"},{"r":38.6,"v":-1,"s":"Observed"},{"r":39,"v":0.7,"s":"Observed"},{"r":39.2,"v":-3.0,"s":"Observed"},{"r":39.4,"v":7.3,"s":"Observed"},{"r":39.6,"v":1.5,"s":"Observed"},
  {"r":0,"v":4.3,"s":"hi"},{"r":2,"v":4.3,"s":"hi"},{"r":4,"v":4.1,"s":"hi"},{"r":5,"v":3.9,"s":"hi"},{"r":6,"v":4.4,"s":"hi"},{"r":8,"v":4.6,"s":"hi"},{"r":10,"v":4.9,"s":"hi"},{"r":12,"v":5.1,"s":"hi"},{"r":14,"v":5.4,"s":"hi"},{"r":16,"v":5.6,"s":"hi"},{"r":18,"v":5.8,"s":"hi"},{"r":20,"v":6.0,"s":"hi"},{"r":22,"v":6.4,"s":"hi"},{"r":24,"v":6.9,"s":"hi"},{"r":25,"v":7.3,"s":"hi"},{"r":26,"v":7.3,"s":"hi"},{"r":27,"v":7.6,"s":"hi"},{"r":28,"v":7.2,"s":"hi"},{"r":30,"v":7.0,"s":"hi"},{"r":32,"v":7.3,"s":"hi"},{"r":33,"v":6.8,"s":"hi"},{"r":34,"v":6.8,"s":"hi"},{"r":35,"v":6.6,"s":"hi"},{"r":36,"v":6.5,"s":"hi"},{"r":36.5,"v":6.2,"s":"hi"},
  {"r":0,"v":4.4,"s":"mid"},{"r":0.5,"v":5.8,"s":"mid"},{"r":1,"v":6.0,"s":"mid"},{"r":2,"v":5.6,"s":"mid"},{"r":3,"v":4.6,"s":"mid"},{"r":4,"v":4.3,"s":"mid"},{"r":5,"v":4.1,"s":"mid"},{"r":6,"v":3.6,"s":"mid"},{"r":7,"v":3.2,"s":"mid"},{"r":8,"v":3.0,"s":"mid"},{"r":9,"v":2.6,"s":"mid"},{"r":10,"v":2.8,"s":"mid"},{"r":11,"v":3.2,"s":"mid"},{"r":12,"v":3.1,"s":"mid"},{"r":13,"v":3.4,"s":"mid"},{"r":14,"v":3.9,"s":"mid"},{"r":15,"v":3.8,"s":"mid"},{"r":16,"v":4.3,"s":"mid"},{"r":17,"v":4.1,"s":"mid"},{"r":18,"v":3.8,"s":"mid"},{"r":19,"v":3.9,"s":"mid"},{"r":20,"v":4.5,"s":"mid"},{"r":21,"v":4.9,"s":"mid"},{"r":22,"v":5.5,"s":"mid"},{"r":23,"v":5.8,"s":"mid"},{"r":24,"v":6.8,"s":"mid"},{"r":25,"v":7.9,"s":"mid"},{"r":26,"v":7.3,"s":"mid"},{"r":27,"v":7.8,"s":"mid"},{"r":28,"v":6.4,"s":"mid"},{"r":29,"v":5.4,"s":"mid"},{"r":30,"v":5.0,"s":"mid"},{"r":31,"v":5.6,"s":"mid"},{"r":32,"v":6.2,"s":"mid"},{"r":33,"v":5.5,"s":"mid"},{"r":34,"v":6.5,"s":"mid"},{"r":35,"v":6.8,"s":"mid"},{"r":36,"v":6.6,"s":"mid"},{"r":36.4,"v":6.2,"s":"mid"}
 ],
 "e": [
  {"r":0,"v":0.0,"s":"Simulated"},{"r":0.3,"v":0.3,"s":"Simulated"},{"r":1,"v":0.4,"s":"Simulated"},{"r":1.5,"v":0.42,"s":"Simulated"},{"r":2,"v":0.45,"s":"Simulated"},{"r":2.5,"v":0.42,"s":"Simulated"},{"r":3,"v":0.45,"s":"Simulated"},{"r":3.5,"v":0.4,"s":"Simulated"},{"r":4,"v":0.42,"s":"Simulated"},{"r":4.5,"v":0.5,"s":"Simulated"},{"r":5,"v":0.6,"s":"Simulated"},{"r":5.5,"v":0.75,"s":"Simulated"},{"r":6,"v":0.9,"s":"Simulated"},{"r":6.5,"v":0.85,"s":"Simulated"},{"r":7,"v":0.85,"s":"Simulated"},{"r":7.5,"v":0.92,"s":"Simulated"},{"r":8,"v":0.9,"s":"Simulated"},{"r":8.5,"v":0.8,"s":"Simulated"},{"r":9,"v":0.8,"s":"Simulated"},{"r":9.5,"v":0.88,"s":"Simulated"},{"r":10,"v":0.9,"s":"Simulated"},{"r":10.5,"v":0.85,"s":"Simulated"},{"r":11,"v":0.85,"s":"Simulated"},{"r":11.5,"v":0.75,"s":"Simulated"},{"r":12,"v":0.8,"s":"Simulated"},{"r":12.5,"v":0.9,"s":"Simulated"},{"r":13,"v":1.0,"s":"Simulated"},{"r":13.5,"v":1.05,"s":"Simulated"},{"r":14,"v":1.1,"s":"Simulated"},{"r":14.5,"v":1.2,"s":"Simulated"},{"r":15,"v":1.3,"s":"Simulated"},{"r":15.5,"v":1.4,"s":"Simulated"},{"r":16,"v":1.5,"s":"Simulated"},{"r":16.5,"v":1.55,"s":"Simulated"},{"r":17,"v":1.6,"s":"Simulated"},{"r":17.5,"v":1.7,"s":"Simulated"},{"r":18,"v":1.8,"s":"Simulated"},{"r":18.5,"v":1.7,"s":"Simulated"},{"r":19,"v":1.65,"s":"Simulated"},{"r":19.5,"v":1.55,"s":"Simulated"},{"r":20,"v":1.5,"s":"Simulated"},{"r":20.5,"v":1.4,"s":"Simulated"},{"r":21,"v":1.3,"s":"Simulated"},{"r":21.5,"v":1.15,"s":"Simulated"},{"r":22,"v":1.0,"s":"Simulated"},{"r":22.5,"v":0.8,"s":"Simulated"},{"r":23,"v":0.6,"s":"Simulated"},{"r":23.5,"v":0.45,"s":"Simulated"},{"r":24,"v":0.3,"s":"Simulated"},{"r":24.5,"v":0.2,"s":"Simulated"},{"r":25,"v":0.1,"s":"Simulated"},{"r":25.5,"v":0.5,"s":"Simulated"},{"r":26,"v":0.8,"s":"Simulated"},{"r":26.5,"v":0.9,"s":"Simulated"},{"r":27,"v":1.0,"s":"Simulated"},{"r":27.5,"v":1.05,"s":"Simulated"},{"r":28,"v":1.1,"s":"Simulated"},{"r":28.5,"v":1.0,"s":"Simulated"},{"r":29,"v":0.9,"s":"Simulated"},{"r":29.5,"v":1.1,"s":"Simulated"},{"r":30,"v":1.4,"s":"Simulated"},{"r":30.5,"v":1.5,"s":"Simulated"},{"r":31,"v":1.6,"s":"Simulated"},{"r":31.5,"v":1.7,"s":"Simulated"},{"r":32,"v":1.65,"s":"Simulated"},{"r":32.4,"v":0.3,"s":"Simulated"},{"r":32.8,"v":1.0,"s":"Simulated"},{"r":33.2,"v":0.5,"s":"Simulated"},{"r":33.6,"v":1.35,"s":"Simulated"},{"r":34,"v":0.5,"s":"Simulated"},{"r":34.2,"v":0,"s":"Simulated"},{"r":34.3,"v":0.9,"s":"Simulated"},{"r":34.4,"v":0,"s":"Simulated"},{"r":34.5,"v":1.0,"s":"Simulated"},{"r":34.6,"v":0,"s":"Simulated"},{"r":34.7,"v":1.1,"s":"Simulated"},{"r":34.8,"v":0,"s":"Simulated"},{"r":34.9,"v":1.2,"s":"Simulated"},{"r":35.0,"v":0,"s":"Simulated"},{"r":35.1,"v":1.3,"s":"Simulated"},{"r":35.2,"v":0,"s":"Simulated"},{"r":35.3,"v":1.4,"s":"Simulated"},{"r":35.4,"v":0,"s":"Simulated"},{"r":35.5,"v":1.6,"s":"Simulated"},{"r":35.6,"v":0,"s":"Simulated"},{"r":35.7,"v":1.7,"s":"Simulated"},{"r":35.8,"v":0,"s":"Simulated"},{"r":35.9,"v":1.9,"s":"Simulated"},{"r":36.0,"v":0,"s":"Simulated"},{"r":36.1,"v":2.0,"s":"Simulated"},{"r":36.2,"v":0,"s":"Simulated"},{"r":36.3,"v":2.2,"s":"Simulated"},{"r":36.4,"v":0,"s":"Simulated"},{"r":36.5,"v":2.5,"s":"Simulated"},{"r":36.6,"v":0,"s":"Simulated"},{"r":39.6,"v":0,"s":"Simulated"},
  {"r":0,"v":0.9,"s":"Observed"},{"r":0.3,"v":0.1,"s":"Observed"},{"r":0.6,"v":0.6,"s":"Observed"},{"r":1,"v":0.2,"s":"Observed"},{"r":1.3,"v":0.8,"s":"Observed"},{"r":1.6,"v":0.4,"s":"Observed"},{"r":2,"v":0.7,"s":"Observed"},{"r":2.3,"v":-0.15,"s":"Observed"},{"r":2.6,"v":0.5,"s":"Observed"},{"r":3,"v":0.9,"s":"Observed"},{"r":3.3,"v":0.4,"s":"Observed"},{"r":3.6,"v":1.0,"s":"Observed"},{"r":4,"v":0.5,"s":"Observed"},{"r":4.3,"v":0.8,"s":"Observed"},{"r":4.6,"v":0.3,"s":"Observed"},{"r":5,"v":-0.25,"s":"Observed"},{"r":5.3,"v":0.8,"s":"Observed"},{"r":5.6,"v":1.1,"s":"Observed"},{"r":6,"v":0.6,"s":"Observed"},{"r":6.3,"v":1.5,"s":"Observed"},{"r":6.6,"v":0.7,"s":"Observed"},{"r":7,"v":1.2,"s":"Observed"},{"r":7.3,"v":0.6,"s":"Observed"},{"r":7.6,"v":0.9,"s":"Observed"},{"r":8,"v":0.65,"s":"Observed"},{"r":8.3,"v":1.2,"s":"Observed"},{"r":8.6,"v":0.7,"s":"Observed"},{"r":9,"v":1.0,"s":"Observed"},{"r":9.3,"v":0.75,"s":"Observed"},{"r":9.6,"v":1.1,"s":"Observed"},{"r":10,"v":0.8,"s":"Observed"},{"r":10.3,"v":1.2,"s":"Observed"},{"r":10.6,"v":0.7,"s":"Observed"},{"r":11,"v":1.0,"s":"Observed"},{"r":11.3,"v":0.6,"s":"Observed"},{"r":11.6,"v":1.1,"s":"Observed"},{"r":12,"v":0.8,"s":"Observed"},{"r":12.3,"v":1.2,"s":"Observed"},{"r":12.6,"v":0.7,"s":"Observed"},{"r":13,"v":1.0,"s":"Observed"},{"r":13.3,"v":1.6,"s":"Observed"},{"r":13.6,"v":1.0,"s":"Observed"},{"r":14,"v":1.3,"s":"Observed"},{"r":14.3,"v":0.8,"s":"Observed"},{"r":14.6,"v":1.5,"s":"Observed"},{"r":15,"v":1.1,"s":"Observed"},{"r":15.3,"v":1.7,"s":"Observed"},{"r":15.6,"v":1.2,"s":"Observed"},{"r":16,"v":1.8,"s":"Observed"},{"r":16.3,"v":1.4,"s":"Observed"},{"r":16.6,"v":2.3,"s":"Observed"},{"r":17,"v":1.7,"s":"Observed"},{"r":17.3,"v":2.5,"s":"Observed"},{"r":17.6,"v":1.8,"s":"Observed"},{"r":18,"v":2.4,"s":"Observed"},{"r":18.3,"v":1.6,"s":"Observed"},{"r":18.6,"v":2.3,"s":"Observed"},{"r":19,"v":1.5,"s":"Observed"},{"r":19.3,"v":2.0,"s":"Observed"},{"r":19.6,"v":1.4,"s":"Observed"},{"r":20,"v":1.8,"s":"Observed"},{"r":20.3,"v":1.2,"s":"Observed"},{"r":20.6,"v":1.6,"s":"Observed"},{"r":21,"v":1.0,"s":"Observed"},{"r":21.5,"v":0.8,"s":"Observed"},{"r":22,"v":0.6,"s":"Observed"},{"r":22.5,"v":0.3,"s":"Observed"},{"r":23,"v":0.7,"s":"Observed"},{"r":23.5,"v":0.1,"s":"Observed"},{"r":24,"v":-0.2,"s":"Observed"},{"r":24.3,"v":0.5,"s":"Observed"},{"r":24.6,"v":-0.25,"s":"Observed"},{"r":25,"v":0.3,"s":"Observed"},{"r":25.5,"v":0.8,"s":"Observed"},{"r":26,"v":1.3,"s":"Observed"},{"r":26.3,"v":2.0,"s":"Observed"},{"r":26.6,"v":1.0,"s":"Observed"},{"r":27,"v":2.2,"s":"Observed"},{"r":27.3,"v":1.4,"s":"Observed"},{"r":27.6,"v":1.8,"s":"Observed"},{"r":28,"v":1.0,"s":"Observed"},{"r":28.3,"v":2.5,"s":"Observed"},{"r":28.6,"v":1.2,"s":"Observed"},{"r":29,"v":2.1,"s":"Observed"},{"r":29.3,"v":0.8,"s":"Observed"},{"r":29.6,"v":2.7,"s":"Observed"},{"r":30,"v":1.1,"s":"Observed"},{"r":30.3,"v":2.2,"s":"Observed"},{"r":30.6,"v":0.9,"s":"Observed"},{"r":31,"v":1.6,"s":"Observed"},
  {"r":0,"v":0.3,"s":"hi"},{"r":1,"v":0.45,"s":"hi"},{"r":2,"v":0.5,"s":"hi"},{"r":3,"v":0.5,"s":"hi"},{"r":4,"v":0.45,"s":"hi"},{"r":5,"v":0.7,"s":"hi"},{"r":6,"v":1.0,"s":"hi"},{"r":7,"v":0.95,"s":"hi"},{"r":8,"v":1.0,"s":"hi"},{"r":9,"v":0.9,"s":"hi"},{"r":10,"v":1.05,"s":"hi"},{"r":11,"v":1.1,"s":"hi"},{"r":12,"v":0.95,"s":"hi"},{"r":13,"v":1.15,"s":"hi"},{"r":14,"v":1.25,"s":"hi"},{"r":15,"v":1.5,"s":"hi"},{"r":16,"v":1.8,"s":"hi"},{"r":17,"v":2.2,"s":"hi"},{"r":18,"v":2.75,"s":"hi"},{"r":19,"v":2.3,"s":"hi"},{"r":20,"v":1.9,"s":"hi"},{"r":21,"v":1.5,"s":"hi"},{"r":22,"v":1.15,"s":"hi"},{"r":23,"v":0.7,"s":"hi"},{"r":24,"v":0.4,"s":"hi"},{"r":25,"v":0.2,"s":"hi"},{"r":26,"v":1.0,"s":"hi"},{"r":27,"v":1.15,"s":"hi"},{"r":28,"v":1.3,"s":"hi"},{"r":29,"v":1.1,"s":"hi"},{"r":30,"v":1.55,"s":"hi"},{"r":31,"v":1.65,"s":"hi"},{"r":32,"v":1.75,"s":"hi"},{"r":33,"v":0.8,"s":"hi"},{"r":34,"v":1.2,"s":"hi"},{"r":35,"v":1.0,"s":"hi"},{"r":35.5,"v":2.0,"s":"hi"},{"r":36,"v":2.5,"s":"hi"},{"r":36.5,"v":3.1,"s":"hi"},{"r":36.8,"v":0.05,"s":"hi"},
  {"r":0,"v":0.1,"s":"mid"},{"r":1,"v":0.42,"s":"mid"},{"r":2,"v":0.48,"s":"mid"},{"r":3,"v":0.48,"s":"mid"},{"r":4,"v":0.45,"s":"mid"},{"r":5,"v":0.65,"s":"mid"},{"r":6,"v":0.95,"s":"mid"},{"r":7,"v":0.9,"s":"mid"},{"r":8,"v":0.95,"s":"mid"},{"r":9,"v":0.85,"s":"mid"},{"r":10,"v":0.95,"s":"mid"},{"r":11,"v":0.9,"s":"mid"},{"r":12,"v":0.85,"s":"mid"},{"r":13,"v":1.05,"s":"mid"},{"r":14,"v":1.15,"s":"mid"},{"r":15,"v":1.38,"s":"mid"},{"r":16,"v":1.6,"s":"mid"},{"r":17,"v":1.75,"s":"mid"},{"r":18,"v":1.95,"s":"mid"},{"r":19,"v":1.75,"s":"mid"},{"r":20,"v":1.6,"s":"mid"},{"r":21,"v":1.38,"s":"mid"},{"r":22,"v":1.05,"s":"mid"},{"r":23,"v":0.65,"s":"mid"},{"r":24,"v":0.35,"s":"mid"},{"r":25,"v":0.15,"s":"mid"},{"r":26,"v":0.85,"s":"mid"},{"r":27,"v":1.05,"s":"mid"},{"r":28,"v":1.15,"s":"mid"},{"r":29,"v":0.95,"s":"mid"},{"r":30,"v":1.45,"s":"mid"},{"r":31,"v":1.62,"s":"mid"},{"r":32,"v":1.7,"s":"mid"},{"r":33,"v":0.6,"s":"mid"},{"r":34,"v":0.8,"s":"mid"},{"r":35,"v":0.8,"s":"mid"},{"r":35.5,"v":1.7,"s":"mid"},{"r":36,"v":2.1,"s":"mid"},{"r":36.5,"v":2.6,"s":"mid"},{"r":36.7,"v":0.05,"s":"mid"},
  {"r":0,"v":0.8,"s":"lo"},{"r":2,"v":0.76,"s":"lo"},{"r":5,"v":0.72,"s":"lo"},{"r":8,"v":0.7,"s":"lo"},{"r":10,"v":0.68,"s":"lo"},{"r":15,"v":0.67,"s":"lo"},{"r":20,"v":0.66,"s":"lo"},{"r":22,"v":0.68,"s":"lo"},{"r":25,"v":0.65,"s":"lo"},{"r":30,"v":0.62,"s":"lo"},{"r":34,"v":0.6,"s":"lo"},{"r":36,"v":0.6,"s":"lo"}
 ],
 "f": [
  {"r":0,"v":0,"s":"Simulated"},{"r":2,"v":0.5,"s":"Simulated"},{"r":4,"v":1.0,"s":"Simulated"},{"r":6,"v":2.0,"s":"Simulated"},{"r":7,"v":3.0,"s":"Simulated"},{"r":8,"v":6.0,"s":"Simulated"},{"r":10,"v":10.0,"s":"Simulated"},{"r":12,"v":14.0,"s":"Simulated"},{"r":14,"v":17.0,"s":"Simulated"},{"r":16,"v":21.0,"s":"Simulated"},{"r":18,"v":27.0,"s":"Simulated"},{"r":20,"v":34.0,"s":"Simulated"},{"r":22,"v":38.0,"s":"Simulated"},{"r":24,"v":40.5,"s":"Simulated"},{"r":26,"v":42.0,"s":"Simulated"},{"r":28,"v":44.0,"s":"Simulated"},{"r":29,"v":47.5,"s":"Simulated"},{"r":30,"v":49.0,"s":"Simulated"},{"r":32,"v":49.8,"s":"Simulated"},{"r":36,"v":50.3,"s":"Simulated"},{"r":39.6,"v":50.4,"s":"Simulated"},
  {"r":0,"v":6,"s":"Observed"},{"r":0.3,"v":0,"s":"Observed"},{"r":0.6,"v":3,"s":"Observed"},{"r":1,"v":-1,"s":"Observed"},{"r":1.3,"v":2,"s":"Observed"},{"r":1.6,"v":-2,"s":"Observed"},{"r":2,"v":4,"s":"Observed"},{"r":2.3,"v":-3.5,"s":"Observed"},{"r":2.6,"v":3,"s":"Observed"},{"r":3,"v":0,"s":"Observed"},{"r":3.3,"v":5,"s":"Observed"},{"r":3.6,"v":1,"s":"Observed"},{"r":4,"v":4,"s":"Observed"},{"r":4.3,"v":-1,"s":"Observed"},{"r":4.6,"v":3,"s":"Observed"},{"r":5,"v":0,"s":"Observed"},{"r":5.3,"v":6,"s":"Observed"},{"r":5.6,"v":-6,"s":"Observed"},{"r":6,"v":3,"s":"Observed"},{"r":6.3,"v":-2,"s":"Observed"},{"r":6.6,"v":4,"s":"Observed"},{"r":7,"v":2,"s":"Observed"},{"r":7.3,"v":7,"s":"Observed"},{"r":7.6,"v":3,"s":"Observed"},{"r":8,"v":8,"s":"Observed"},{"r":8.5,"v":6,"s":"Observed"},{"r":9,"v":10,"s":"Observed"},{"r":9.5,"v":8,"s":"Observed"},{"r":10,"v":12,"s":"Observed"},{"r":10.5,"v":10,"s":"Observed"},{"r":11,"v":14,"s":"Observed"},{"r":11.5,"v":11,"s":"Observed"},{"r":12,"v":15,"s":"Observed"},{"r":12.5,"v":13,"s":"Observed"},{"r":13,"v":17,"s":"Observed"},{"r":13.5,"v":15,"s":"Observed"},{"r":14,"v":18,"s":"Observed"},{"r":14.5,"v":20,"s":"Observed"},{"r":15,"v":17,"s":"Observed"},{"r":15.5,"v":28,"s":"Observed"},{"r":16,"v":20,"s":"Observed"},{"r":16.5,"v":30,"s":"Observed"},{"r":17,"v":23,"s":"Observed"},{"r":17.5,"v":31,"s":"Observed"},{"r":18,"v":26,"s":"Observed"},{"r":18.5,"v":33,"s":"Observed"},{"r":19,"v":29,"s":"Observed"},{"r":19.5,"v":36,"s":"Observed"},{"r":20,"v":32,"s":"Observed"},{"r":20.5,"v":38,"s":"Observed"},{"r":21,"v":34,"s":"Observed"},{"r":21.5,"v":40,"s":"Observed"},{"r":22,"v":37,"s":"Observed"},{"r":22.5,"v":42,"s":"Observed"},{"r":23,"v":39,"s":"Observed"},{"r":23.5,"v":43,"s":"Observed"},{"r":24,"v":40,"s":"Observed"},{"r":24.5,"v":44,"s":"Observed"},{"r":25,"v":41,"s":"Observed"},{"r":25.5,"v":44,"s":"Observed"},{"r":26,"v":42,"s":"Observed"},{"r":26.5,"v":43,"s":"Observed"},{"r":27,"v":35,"s":"Observed"},{"r":27.5,"v":46,"s":"Observed"},{"r":28,"v":43,"s":"Observed"},{"r":28.5,"v":55,"s":"Observed"},{"r":29,"v":48,"s":"Observed"},{"r":29.5,"v":57,"s":"Observed"},{"r":30,"v":50,"s":"Observed"},{"r":30.3,"v":69,"s":"Observed"},{"r":30.6,"v":58,"s":"Observed"},{"r":31,"v":53,"s":"Observed"},{"r":31.3,"v":63,"s":"Observed"},{"r":31.5,"v":56,"s":"Observed"},
  {"r":0,"v":2,"s":"hi"},{"r":2,"v":4,"s":"hi"},{"r":4,"v":7,"s":"hi"},{"r":6,"v":9,"s":"hi"},{"r":8,"v":11,"s":"hi"},{"r":10,"v":13,"s":"hi"},{"r":12,"v":17,"s":"hi"},{"r":14,"v":21,"s":"hi"},{"r":16,"v":27,"s":"hi"},{"r":18,"v":33,"s":"hi"},{"r":20,"v":40,"s":"hi"},{"r":22,"v":46,"s":"hi"},{"r":24,"v":51,"s":"hi"},{"r":26,"v":54,"s":"hi"},{"r":28,"v":56,"s":"hi"},{"r":30,"v":58,"s":"hi"},{"r":32,"v":59.5,"s":"hi"},{"r":36,"v":60.3,"s":"hi"},{"r":39.6,"v":60.5,"s":"hi"},
  {"r":0,"v":0,"s":"mid"},{"r":2,"v":0.8,"s":"mid"},{"r":4,"v":2,"s":"mid"},{"r":6,"v":3.5,"s":"mid"},{"r":8,"v":6,"s":"mid"},{"r":10,"v":10,"s":"mid"},{"r":12,"v":14,"s":"mid"},{"r":14,"v":19,"s":"mid"},{"r":16,"v":24,"s":"mid"},{"r":18,"v":30,"s":"mid"},{"r":20,"v":36,"s":"mid"},{"r":22,"v":40,"s":"mid"},{"r":24,"v":42.5,"s":"mid"},{"r":26,"v":45,"s":"mid"},{"r":28,"v":48,"s":"mid"},{"r":30,"v":51,"s":"mid"},{"r":32,"v":53,"s":"mid"},{"r":36,"v":53.8,"s":"mid"},{"r":39.6,"v":53.8,"s":"mid"},
  {"r":0,"v":0,"s":"lo"},{"r":2,"v":1.5,"s":"lo"},{"r":4,"v":3,"s":"lo"},{"r":6,"v":5.5,"s":"lo"},{"r":8,"v":8,"s":"lo"},{"r":10,"v":11,"s":"lo"},{"r":12,"v":14,"s":"lo"},{"r":14,"v":16,"s":"lo"},{"r":16,"v":18,"s":"lo"},{"r":18,"v":20,"s":"lo"},{"r":20,"v":22,"s":"lo"},{"r":22,"v":24,"s":"lo"},{"r":24,"v":26.5,"s":"lo"},{"r":26,"v":30,"s":"lo"},{"r":28,"v":33.5,"s":"lo"},{"r":30,"v":35.5,"s":"lo"},{"r":32,"v":36.5,"s":"lo"},{"r":36,"v":37.5,"s":"lo"},{"r":39.6,"v":37.8,"s":"lo"}
 ]
},
"concat": [
 {
  "width": 138, "height": 151,
  "title": {"text": "Observed Reflectivity"},
  "data": {"name": "a"},
  "encoding": {
   "x": {"field": "r", "type": "quantitative", "scale": {"domain": [-2, 41.5], "nice": false, "zero": false}, "axis": {"values": [0,10,20,30,40], "title": null}},
   "y": {"field": "v", "type": "quantitative", "scale": {"domain": [-6.3, 20.3], "nice": false, "zero": false}, "axis": {"values": [-5,0,5,10,15,20], "title": "dBZ"}}
  },
  "layer": [
   {"mark": {"type": "line", "strokeWidth": 1.1},
    "encoding": {"color": {"field": "s", "type": "nominal", "scale": {"domain": ["Ku","Ka"], "range": ["#1f77b4","#ff7f0e"]}, "legend": {"title": null, "orient": "top-right"}}}},
   {"data": {"values": [{"t": "(a)"}]}, "mark": {"type": "text", "fontSize": 8.2, "dx": -6, "dy": 7.5, "align": "center", "baseline": "middle", "color": "#111"},
    "encoding": {"x": {"datum": -2, "type": "quantitative"}, "y": {"datum": -6.3, "type": "quantitative"}, "text": {"field": "t"}}}
  ]
 },
 {
  "width": 138, "height": 151,
  "title": {"text": "Z\u00a0\u00a0\u00a0\u00a0\u00a0\u00a0", "fontSize": 7, "subtitle": "\u00a0\u00a0\u00a0\u00a0dpKu\u00a0\u00a0\u00a0\u00a0\u00a0\u00a0\u00a0\u00a0", "subtitleFontSize": 4.5, "subtitlePadding": -3.4, "offset": 1.5},
  "data": {"name": "b"},
  "encoding": {
   "x": {"field": "r", "type": "quantitative", "scale": {"domain": [-2, 41.5], "nice": false, "zero": false}, "axis": {"values": [0,10,20,30,40], "title": null}},
   "y": {"field": "v", "type": "quantitative", "scale": {"domain": [-0.85, 3.53], "nice": false, "zero": false}, "axis": {"values": [-0.5,0,0.5,1,1.5,2,2.5,3,3.5], "format": ".1f", "title": "dB"}}
  },
  "layer": [
   {"transform": [{"filter": {"field": "s", "oneOf": ["lo","mid","hi"]}}], "mark": {"type": "line", "color": "blue", "strokeWidth": 0.9},
    "encoding": {"detail": {"field": "s"}, "opacity": {"field": "s", "type": "nominal", "scale": {"domain": ["lo","mid","hi"], "range": [0.45,0.75,0.45]}, "legend": null}}},
   {"transform": [{"filter": "datum.s=='Simulated'"}], "mark": {"type": "line", "strokeWidth": 1.1},
    "encoding": {"color": {"field": "s", "type": "nominal", "scale": {"domain": ["Simulated","Observed"], "range": ["red","black"]}, "legend": {"title": null}}}},
   {"transform": [{"filter": "datum.s=='Observed'"}], "mark": {"type": "line", "strokeWidth": 1.1},
    "encoding": {"color": {"field": "s", "type": "nominal", "scale": {"domain": ["Simulated","Observed"], "range": ["red","black"]}, "legend": {"title": null}}}},
   {"data": {"values": [{"t": "(b)"}]}, "mark": {"type": "text", "fontSize": 8.2, "dx": -4, "dy": 7.5, "align": "center", "baseline": "middle", "color": "#111"},
    "encoding": {"x": {"datum": -2, "type": "quantitative"}, "y": {"datum": -0.85, "type": "quantitative"}, "text": {"field": "t"}}}
  ]
 },
 {
  "width": 138, "height": 151,
  "title": {"text": "ϕ\u00a0\u00a0\u00a0\u00a0\u00a0", "fontSize": 7, "subtitle": "\u00a0\u00a0dpKu\u00a0\u00a0", "subtitleFontSize": 4.5, "subtitlePadding": -3.4, "offset": 1.5},
  "data": {"name": "c"},
  "encoding": {
   "x": {"field": "r", "type": "quantitative", "scale": {"domain": [-2, 41.5], "nice": false, "zero": false}, "axis": {"values": [0,10,20,30,40], "title": null}},
   "y": {"field": "v", "type": "quantitative", "scale": {"domain": [-7.5, 31.3], "nice": false, "zero": false}, "axis": {"values": [-5,0,5,10,15,20,25,30], "title": "degrees"}}
  },
  "layer": [
   {"transform": [{"filter": {"field": "s", "oneOf": ["lo","mid","hi"]}}], "mark": {"type": "line", "color": "blue", "strokeWidth": 0.9},
    "encoding": {"detail": {"field": "s"}, "opacity": {"field": "s", "type": "nominal", "scale": {"domain": ["lo","mid","hi"], "range": [0.45,0.75,0.6]}, "legend": null}}},
   {"transform": [{"filter": "datum.s=='Simulated'"}], "mark": {"type": "line", "strokeWidth": 1.1},
    "encoding": {"color": {"field": "s", "type": "nominal", "scale": {"domain": ["Simulated","Observed"], "range": ["red","black"]}, "legend": {"title": null}}}},
   {"transform": [{"filter": "datum.s=='Observed'"}], "mark": {"type": "line", "strokeWidth": 1.1},
    "encoding": {"color": {"field": "s", "type": "nominal", "scale": {"domain": ["Simulated","Observed"], "range": ["red","black"]}, "legend": {"title": null}}}},
   {"data": {"values": [{"t": "(c)"}]}, "mark": {"type": "text", "fontSize": 8.2, "dx": -5, "dy": 7.5, "align": "center", "baseline": "middle", "color": "#111"},
    "encoding": {"x": {"datum": -2, "type": "quantitative"}, "y": {"datum": -7.5, "type": "quantitative"}, "text": {"field": "t"}}}
  ]
 },
 {
  "width": 138, "height": 151,
  "title": {"text": "Ku-Ka DWR"},
  "data": {"name": "d"},
  "encoding": {
   "x": {"field": "r", "type": "quantitative", "scale": {"domain": [-2, 41.5], "nice": false, "zero": false}, "axis": {"values": [0,10,20,30,40], "title": "Range (km)"}},
   "y": {"field": "v", "type": "quantitative", "scale": {"domain": [-5.15, 11.4], "nice": false, "zero": false}, "axis": {"values": [-4,-2,0,2,4,6,8,10], "title": "dB"}}
  },
  "layer": [
   {"transform": [{"filter": {"field": "s", "oneOf": ["mid","hi"]}}], "mark": {"type": "line", "color": "blue", "strokeWidth": 0.9},
    "encoding": {"detail": {"field": "s"}, "opacity": {"field": "s", "type": "nominal", "scale": {"domain": ["mid","hi"], "range": [0.7,0.45]}, "legend": null}}},
   {"transform": [{"filter": "datum.s=='Simulated'"}], "mark": {"type": "line", "strokeWidth": 1.1},
    "encoding": {"color": {"field": "s", "type": "nominal", "scale": {"domain": ["Simulated","Observed"], "range": ["red","black"]}, "legend": {"title": null}},
     "strokeDash": {"field": "s", "type": "nominal", "scale": {"domain": ["Simulated","Observed"], "range": [[2,1],[1,0]]}, "legend": {"title": null}}}},
   {"transform": [{"filter": "datum.s=='Observed'"}], "mark": {"type": "line", "strokeWidth": 1.1},
    "encoding": {"color": {"field": "s", "type": "nominal", "scale": {"domain": ["Simulated","Observed"], "range": ["red","black"]}, "legend": {"title": null}},
     "strokeDash": {"field": "s", "type": "nominal", "scale": {"domain": ["Simulated","Observed"], "range": [[2,1],[1,0]]}, "legend": {"title": null}}}},
   {"data": {"values": [{"t": "(d)"}]}, "mark": {"type": "text", "fontSize": 8.2, "dx": -6, "dy": 7.5, "align": "center", "baseline": "middle", "color": "#111"},
    "encoding": {"x": {"datum": -2, "type": "quantitative"}, "y": {"datum": -5.15, "type": "quantitative"}, "text": {"field": "t"}}}
  ]
 },
 {
  "width": 138, "height": 151,
  "title": {"text": "Z\u00a0\u00a0\u00a0\u00a0\u00a0\u00a0", "fontSize": 7, "subtitle": "\u00a0\u00a0\u00a0\u00a0dpKa\u00a0\u00a0\u00a0\u00a0\u00a0\u00a0\u00a0\u00a0", "subtitleFontSize": 4.5, "subtitlePadding": -3.4, "offset": 1.5},
  "data": {"name": "e"},
  "encoding": {
   "x": {"field": "r", "type": "quantitative", "scale": {"domain": [-2, 41.5], "nice": false, "zero": false}, "axis": {"values": [0,10,20,30,40], "title": "Range (km)"}},
   "y": {"field": "v", "type": "quantitative", "scale": {"domain": [-0.42, 3.3], "nice": false, "zero": false}, "axis": {"values": [0,0.5,1,1.5,2,2.5,3], "format": ".1f", "title": "dB"}}
  },
  "layer": [
   {"transform": [{"filter": {"field": "s", "oneOf": ["lo","mid","hi"]}}], "mark": {"type": "line", "color": "blue", "strokeWidth": 0.9},
    "encoding": {"detail": {"field": "s"}, "opacity": {"field": "s", "type": "nominal", "scale": {"domain": ["lo","mid","hi"], "range": [0.45,0.75,0.45]}, "legend": null}}},
   {"transform": [{"filter": "datum.s=='Simulated'"}], "mark": {"type": "line", "strokeWidth": 1.1},
    "encoding": {"color": {"field": "s", "type": "nominal", "scale": {"domain": ["Simulated","Observed"], "range": ["red","black"]}, "legend": {"title": null}},
     "strokeDash": {"field": "s", "type": "nominal", "scale": {"domain": ["Simulated","Observed"], "range": [[2,1],[1,0]]}, "legend": {"title": null}}}},
   {"transform": [{"filter": "datum.s=='Observed'"}], "mark": {"type": "line", "strokeWidth": 1.1},
    "encoding": {"color": {"field": "s", "type": "nominal", "scale": {"domain": ["Simulated","Observed"], "range": ["red","black"]}, "legend": {"title": null}},
     "strokeDash": {"field": "s", "type": "nominal", "scale": {"domain": ["Simulated","Observed"], "range": [[2,1],[1,0]]}, "legend": {"title": null}}}},
   {"data": {"values": [{"t": "(e)"}]}, "mark": {"type": "text", "fontSize": 8.2, "dx": -4, "dy": 7.5, "align": "center", "baseline": "middle", "color": "#111"},
    "encoding": {"x": {"datum": -2, "type": "quantitative"}, "y": {"datum": -0.42, "type": "quantitative"}, "text": {"field": "t"}}}
  ]
 },
 {
  "width": 138, "height": 151,
  "title": {"text": "ϕ\u00a0\u00a0\u00a0\u00a0\u00a0", "fontSize": 7, "subtitle": "\u00a0\u00a0dpKa\u00a0\u00a0", "subtitleFontSize": 4.5, "subtitlePadding": -3.4, "offset": 1.5},
  "data": {"name": "f"},
  "encoding": {
   "x": {"field": "r", "type": "quantitative", "scale": {"domain": [-2, 41.5], "nice": false, "zero": false}, "axis": {"values": [0,10,20,30,40], "title": "Range (km)"}},
   "y": {"field": "v", "type": "quantitative", "scale": {"domain": [-9.6, 72.8], "nice": false, "zero": false}, "axis": {"values": [0,10,20,30,40,50,60,70], "title": "degrees"}}
  },
  "layer": [
   {"transform": [{"filter": {"field": "s", "oneOf": ["lo","mid","hi"]}}], "mark": {"type": "line", "color": "blue", "strokeWidth": 0.9},
    "encoding": {"detail": {"field": "s"}, "opacity": {"field": "s", "type": "nominal", "scale": {"domain": ["lo","mid","hi"], "range": [0.45,0.75,0.6]}, "legend": null}}},
   {"transform": [{"filter": "datum.s=='Simulated'"}], "mark": {"type": "line", "strokeWidth": 1.1},
    "encoding": {"color": {"field": "s", "type": "nominal", "scale": {"domain": ["Simulated","Observed"], "range": ["red","black"]}, "legend": {"title": null}},
     "strokeDash": {"field": "s", "type": "nominal", "scale": {"domain": ["Simulated","Observed"], "range": [[2,1],[1,0]]}, "legend": {"title": null}}}},
   {"transform": [{"filter": "datum.s=='Observed'"}], "mark": {"type": "line", "strokeWidth": 1.1},
    "encoding": {"color": {"field": "s", "type": "nominal", "scale": {"domain": ["Simulated","Observed"], "range": ["red","black"]}, "legend": {"title": null}},
     "strokeDash": {"field": "s", "type": "nominal", "scale": {"domain": ["Simulated","Observed"], "range": [[2,1],[1,0]]}, "legend": {"title": null}}}},
   {"data": {"values": [{"t": "(f)"}]}, "mark": {"type": "text", "fontSize": 8.2, "dx": -5, "dy": 7.5, "align": "center", "baseline": "middle", "color": "#111"},
    "encoding": {"x": {"datum": -2, "type": "quantitative"}, "y": {"datum": -9.6, "type": "quantitative"}, "text": {"field": "t"}}}
  ]
 }
]
}
